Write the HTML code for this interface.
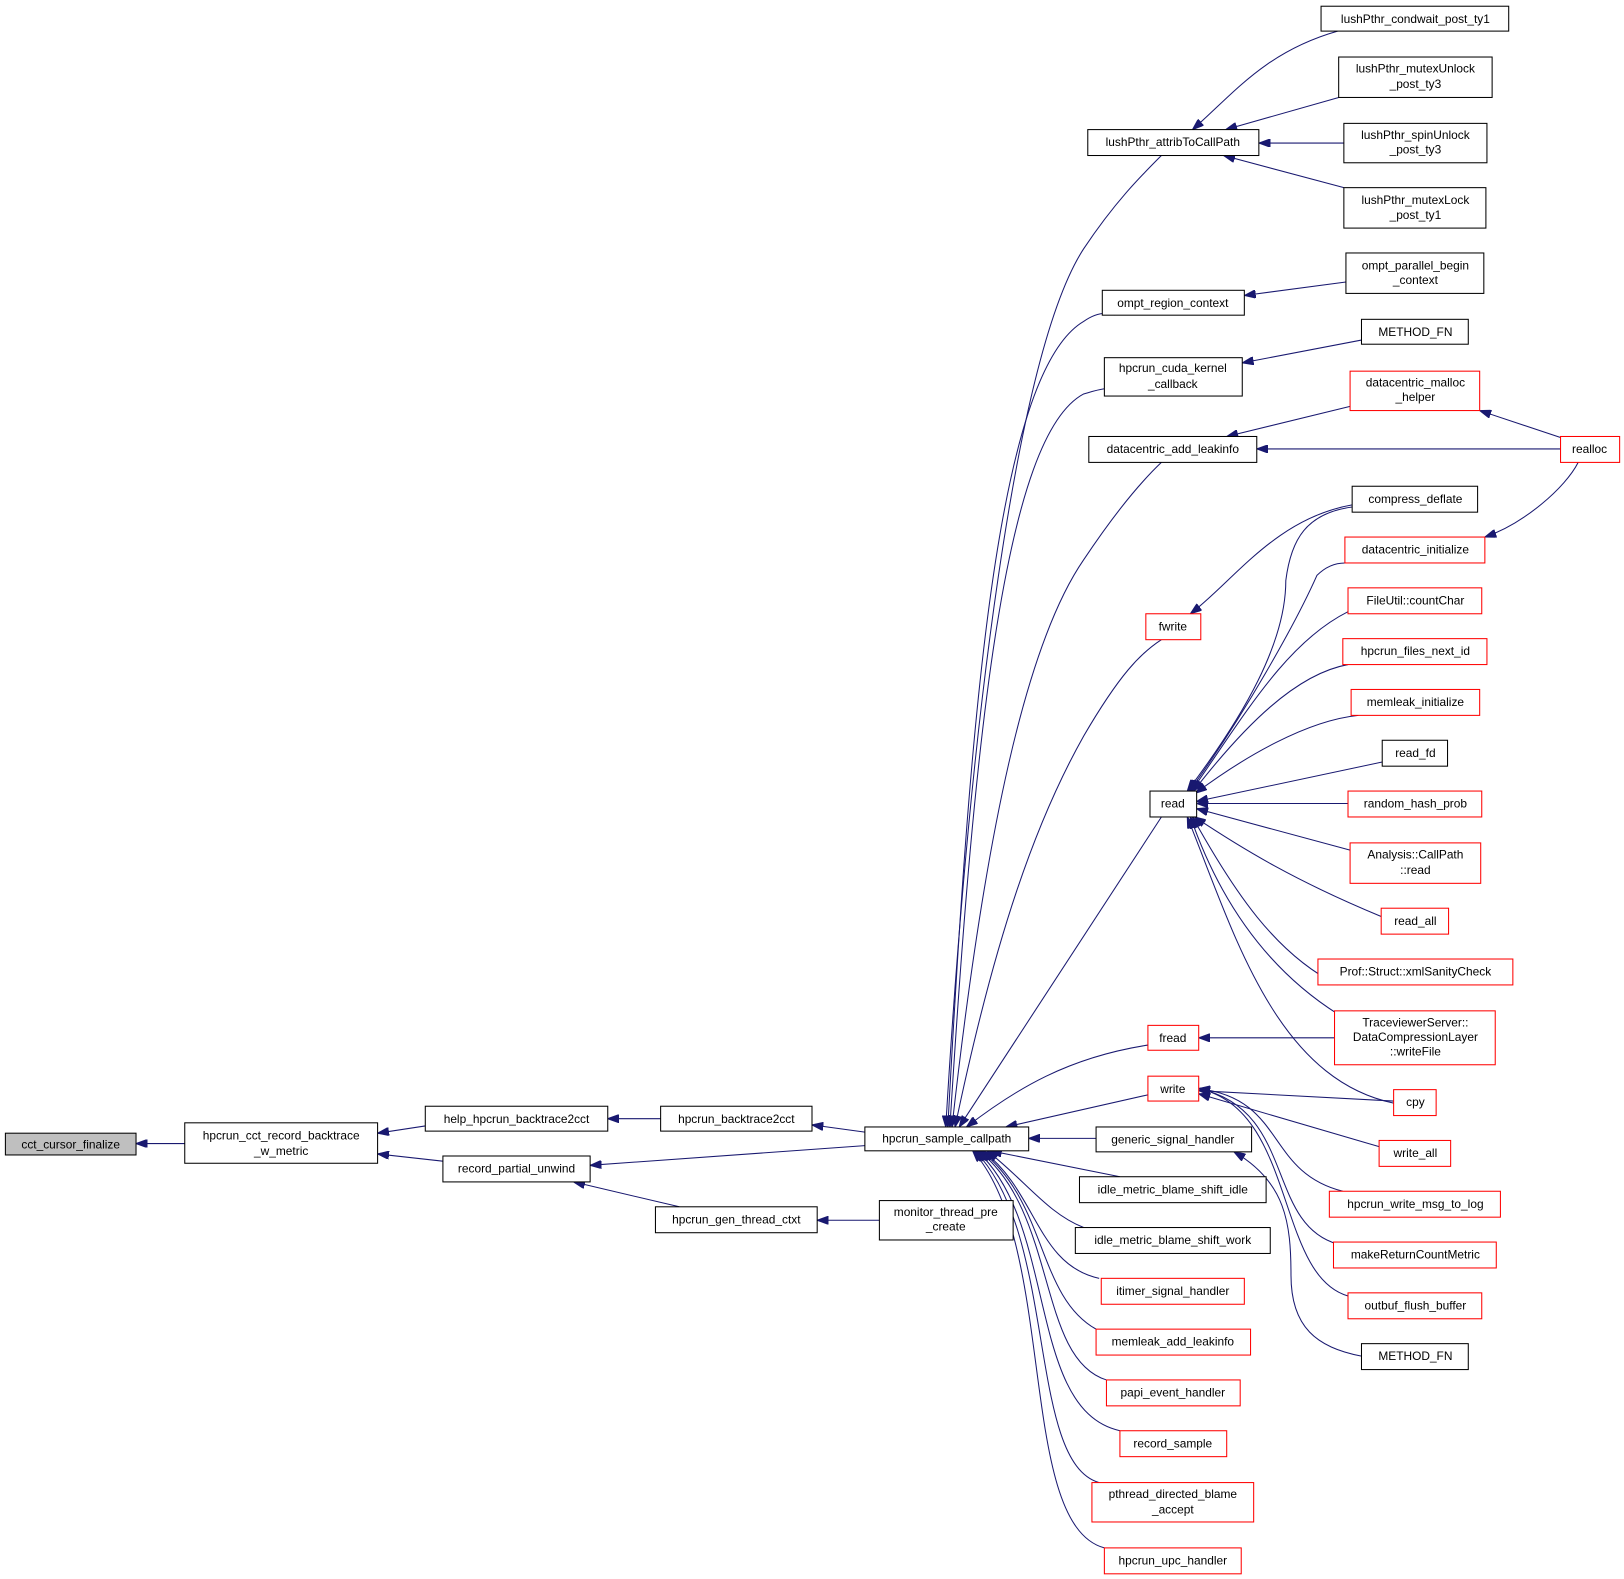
<!DOCTYPE html>
<html><head><meta charset="utf-8"><style>
html,body{margin:0;padding:0;background:#fff}
svg{display:block}
text{font-family:"Liberation Sans",Arial,sans-serif;font-size:11.5px;fill:#000}
.e{fill:none;stroke:#191970;stroke-width:1;marker-start:url(#a)}
.n{fill:#fff;stroke:#000;stroke-width:1}
.r{fill:#fff;stroke:#ff0000;stroke-width:1}
</style></head><body>
<svg width="1624" height="1579" viewBox="0 0 1566 1523" xmlns="http://www.w3.org/2000/svg">
<defs><marker id="a" markerWidth="11" markerHeight="8" refX="11" refY="4" orient="auto-start-reverse" markerUnits="userSpaceOnUse"><path d="M0,0 L11,4 L0,8 z" fill="#191970" stroke="#191970"/></marker></defs>

<!-- edges -->
<path class="e" d="M131,1103 L178,1103"/>
<path class="e" d="M364,1093 L410,1086"/>
<path class="e" d="M364,1113 L427,1120"/>
<path class="e" d="M586,1079 L637,1079"/>
<path class="e" d="M783,1085 L834,1092"/>
<path class="e" d="M569,1124 L834,1105"/>
<path class="e" d="M553,1140 L655,1164"/>
<path class="e" d="M788,1177 L848,1177"/>
<!-- from sample_callpath up -->
<path class="e" d="M912,1087 C935,700 980,340 1045,240 C1075,195 1100,170 1120,150"/>
<path class="e" d="M914,1087 C935,700 960,360 1045,310 C1055,303 1065,300 1075,304"/>
<path class="e" d="M916,1087 C940,700 970,420 1045,380 C1052,378 1058,376 1065,375"/>
<path class="e" d="M918,1087 C950,800 990,620 1045,540 C1075,495 1100,465 1120,446"/>
<path class="e" d="M921,1087 C960,900 1000,790 1045,710 C1080,650 1100,630 1120,617"/>
<path class="e" d="M925,1087 L1120,788"/>
<path class="e" d="M932,1087 C980,1050 1030,1020 1107,1008"/>
<path class="e" d="M970,1087 L1107,1056"/>
<path class="e" d="M992,1098 L1057,1098"/>
<path class="e" d="M955,1110 L1080,1135"/>
<path class="e" d="M952,1110 C990,1140 1010,1170 1045,1184"/>
<path class="e" d="M948,1110 C1000,1150 1000,1220 1060,1233"/>
<path class="e" d="M946,1110 C1010,1160 1000,1250 1057,1282"/>
<path class="e" d="M944,1110 C1020,1170 1000,1310 1067,1331"/>
<path class="e" d="M942,1110 C1020,1180 990,1360 1080,1380"/>
<path class="e" d="M940,1110 C1020,1190 990,1410 1060,1430"/>
<path class="e" d="M938,1110 C1020,1200 980,1470 1065,1493"/>
<!-- col3 to col4 -->
<path class="e" d="M1150,125 C1190,90 1220,50 1290,30"/>
<path class="e" d="M1182,125 L1291,94"/>
<path class="e" d="M1214,138 L1296,138"/>
<path class="e" d="M1180,150 L1296,181"/>
<path class="e" d="M1200,285 L1298,272"/>
<path class="e" d="M1198,350 L1313,328"/>
<path class="e" d="M1183,421 L1302,392"/>
<path class="e" d="M1212,433 L1505,433"/>
<path class="e" d="M1427,396 L1505,422"/>
<path class="e" d="M1432,518 C1470,505 1510,470 1522,446"/>
<path class="e" d="M1148,592 C1190,560 1230,500 1304,487"/>
<path class="e" d="M1145,763 C1200,690 1240,620 1240,560 C1245,520 1260,495 1304,489"/>
<path class="e" d="M1147,763 C1200,690 1250,600 1270,555 C1280,545 1290,543 1297,543"/>
<path class="e" d="M1149,763 C1200,690 1240,620 1300,590"/>
<path class="e" d="M1151,763 C1200,700 1250,650 1300,641"/>
<path class="e" d="M1153,765 C1200,730 1260,695 1310,690"/>
<path class="e" d="M1154,773 L1333,735"/>
<path class="e" d="M1154,775 L1300,775"/>
<path class="e" d="M1154,780 L1302,820"/>
<path class="e" d="M1152,788 C1200,820 1250,850 1332,884"/>
<path class="e" d="M1150,788 C1190,860 1230,920 1290,950"/>
<path class="e" d="M1148,788 C1180,880 1230,940 1290,978"/>
<path class="e" d="M1145,788 C1190,900 1230,1040 1344,1064"/>
<path class="e" d="M1156,1001 L1287,1001"/>
<path class="e" d="M1156,1052 L1344,1062"/>
<path class="e" d="M1156,1055 L1330,1106"/>
<path class="e" d="M1156,1050 C1240,1060 1220,1130 1295,1149"/>
<path class="e" d="M1156,1050 C1250,1070 1220,1180 1290,1200"/>
<path class="e" d="M1156,1050 C1250,1070 1230,1230 1300,1250"/>
<path class="e" d="M1190,1111 C1240,1140 1245,1180 1245,1230 C1245,1280 1270,1300 1313,1308"/>

<!-- nodes -->
<g>
<rect x="5" y="1093" width="126" height="21" fill="#bfbfbf" stroke="#000"/><text x="68" y="1108" text-anchor="middle">cct_cursor_finalize</text>
<rect class="n" x="178" y="1083" width="186" height="39"/><text x="271" y="1099" text-anchor="middle">hpcrun_cct_record_backtrace</text><text x="271" y="1114" text-anchor="middle">_w_metric</text>
<rect class="n" x="410" y="1067" width="176" height="24"/><text x="498" y="1083" text-anchor="middle">help_hpcrun_backtrace2cct</text>
<rect class="n" x="427" y="1115" width="142" height="25"/><text x="498" y="1131" text-anchor="middle">record_partial_unwind</text>
<rect class="n" x="637" y="1067" width="146" height="24"/><text x="710" y="1083" text-anchor="middle">hpcrun_backtrace2cct</text>
<rect class="n" x="632" y="1164" width="156" height="25"/><text x="710" y="1180" text-anchor="middle">hpcrun_gen_thread_ctxt</text>
<rect class="n" x="848" y="1158" width="129" height="38"/><text x="912" y="1173" text-anchor="middle">monitor_thread_pre</text><text x="912" y="1187" text-anchor="middle">_create</text>
<rect class="n" x="834" y="1087" width="158" height="23"/><text x="913" y="1102" text-anchor="middle">hpcrun_sample_callpath</text>

<rect class="n" x="1049" y="125" width="165" height="25"/><text x="1131" y="141" text-anchor="middle">lushPthr_attribToCallPath</text>
<rect class="n" x="1063" y="280" width="137" height="24"/><text x="1131" y="296" text-anchor="middle">ompt_region_context</text>
<rect class="n" x="1065" y="345" width="133" height="37"/><text x="1131" y="359" text-anchor="middle">hpcrun_cuda_kernel</text><text x="1131" y="374" text-anchor="middle">_callback</text>
<rect class="n" x="1050" y="421" width="162" height="25"/><text x="1131" y="437" text-anchor="middle">datacentric_add_leakinfo</text>
<rect class="r" x="1105" y="592" width="53" height="25"/><text x="1131" y="608" text-anchor="middle">fwrite</text>
<rect class="n" x="1109" y="763" width="45" height="25"/><text x="1131" y="779" text-anchor="middle">read</text>
<rect class="r" x="1107" y="989" width="49" height="24"/><text x="1131" y="1005" text-anchor="middle">fread</text>
<rect class="r" x="1107" y="1038" width="49" height="24"/><text x="1131" y="1054" text-anchor="middle">write</text>
<rect class="n" x="1057" y="1087" width="150" height="24"/><text x="1131" y="1103" text-anchor="middle">generic_signal_handler</text>
<rect class="n" x="1041" y="1135" width="180" height="25"/><text x="1131" y="1151" text-anchor="middle">idle_metric_blame_shift_idle</text>
<rect class="n" x="1037" y="1184" width="188" height="25"/><text x="1131" y="1200" text-anchor="middle">idle_metric_blame_shift_work</text>
<rect class="r" x="1062" y="1233" width="138" height="25"/><text x="1131" y="1249" text-anchor="middle">itimer_signal_handler</text>
<rect class="r" x="1057" y="1282" width="149" height="25"/><text x="1131" y="1298" text-anchor="middle">memleak_add_leakinfo</text>
<rect class="r" x="1067" y="1331" width="129" height="25"/><text x="1131" y="1347" text-anchor="middle">papi_event_handler</text>
<rect class="r" x="1080" y="1380" width="103" height="25"/><text x="1131" y="1396" text-anchor="middle">record_sample</text>
<rect class="r" x="1053" y="1430" width="156" height="38"/><text x="1131" y="1445" text-anchor="middle">pthread_directed_blame</text><text x="1131" y="1460" text-anchor="middle">_accept</text>
<rect class="r" x="1065" y="1493" width="132" height="25"/><text x="1131" y="1509" text-anchor="middle">hpcrun_upc_handler</text>

<rect class="n" x="1274" y="6" width="181" height="24"/><text x="1365" y="22" text-anchor="middle">lushPthr_condwait_post_ty1</text>
<rect class="n" x="1291" y="55" width="148" height="39"/><text x="1365" y="70" text-anchor="middle">lushPthr_mutexUnlock</text><text x="1365" y="85" text-anchor="middle">_post_ty3</text>
<rect class="n" x="1296" y="119" width="138" height="38"/><text x="1365" y="134" text-anchor="middle">lushPthr_spinUnlock</text><text x="1365" y="148" text-anchor="middle">_post_ty3</text>
<rect class="n" x="1296" y="181" width="137" height="39"/><text x="1365" y="197" text-anchor="middle">lushPthr_mutexLock</text><text x="1365" y="211" text-anchor="middle">_post_ty1</text>
<rect class="n" x="1298" y="244" width="133" height="39"/><text x="1365" y="260" text-anchor="middle">ompt_parallel_begin</text><text x="1365" y="274" text-anchor="middle">_context</text>
<rect class="n" x="1313" y="308" width="103" height="24"/><text x="1365" y="324" text-anchor="middle">METHOD_FN</text>
<rect class="r" x="1302" y="358" width="125" height="38"/><text x="1365" y="373" text-anchor="middle">datacentric_malloc</text><text x="1365" y="387" text-anchor="middle">_helper</text>
<rect class="n" x="1304" y="469" width="121" height="25"/><text x="1365" y="485" text-anchor="middle">compress_deflate</text>
<rect class="r" x="1297" y="518" width="135" height="25"/><text x="1365" y="534" text-anchor="middle">datacentric_initialize</text>
<rect class="r" x="1300" y="567" width="129" height="25"/><text x="1365" y="583" text-anchor="middle">FileUtil::countChar</text>
<rect class="r" x="1295" y="616" width="139" height="25"/><text x="1365" y="632" text-anchor="middle">hpcrun_files_next_id</text>
<rect class="r" x="1303" y="665" width="124" height="25"/><text x="1365" y="681" text-anchor="middle">memleak_initialize</text>
<rect class="n" x="1333" y="714" width="63" height="25"/><text x="1365" y="730" text-anchor="middle">read_fd</text>
<rect class="r" x="1300" y="763" width="129" height="25"/><text x="1365" y="779" text-anchor="middle">random_hash_prob</text>
<rect class="r" x="1302" y="813" width="126" height="39"/><text x="1365" y="828" text-anchor="middle">Analysis::CallPath</text><text x="1365" y="843" text-anchor="middle">::read</text>
<rect class="r" x="1332" y="876" width="65" height="25"/><text x="1365" y="892" text-anchor="middle">read_all</text>
<rect class="r" x="1271" y="925" width="188" height="25"/><text x="1365" y="941" text-anchor="middle">Prof::Struct::xmlSanityCheck</text>
<rect class="r" x="1287" y="975" width="155" height="52"/><text x="1365" y="990" text-anchor="middle">TraceviewerServer::</text><text x="1365" y="1004" text-anchor="middle">DataCompressionLayer</text><text x="1365" y="1018" text-anchor="middle">::writeFile</text>
<rect class="r" x="1344" y="1051" width="41" height="25"/><text x="1365" y="1067" text-anchor="middle">cpy</text>
<rect class="r" x="1330" y="1100" width="69" height="25"/><text x="1365" y="1116" text-anchor="middle">write_all</text>
<rect class="r" x="1282" y="1149" width="165" height="25"/><text x="1365" y="1165" text-anchor="middle">hpcrun_write_msg_to_log</text>
<rect class="r" x="1286" y="1198" width="157" height="25"/><text x="1365" y="1214" text-anchor="middle">makeReturnCountMetric</text>
<rect class="r" x="1300" y="1247" width="129" height="25"/><text x="1365" y="1263" text-anchor="middle">outbuf_flush_buffer</text>
<rect class="n" x="1313" y="1296" width="103" height="25"/><text x="1365" y="1312" text-anchor="middle">METHOD_FN</text>
<rect class="r" x="1505" y="421" width="57" height="25"/><text x="1533" y="437" text-anchor="middle">realloc</text>
</g>
</svg>
</body></html>
